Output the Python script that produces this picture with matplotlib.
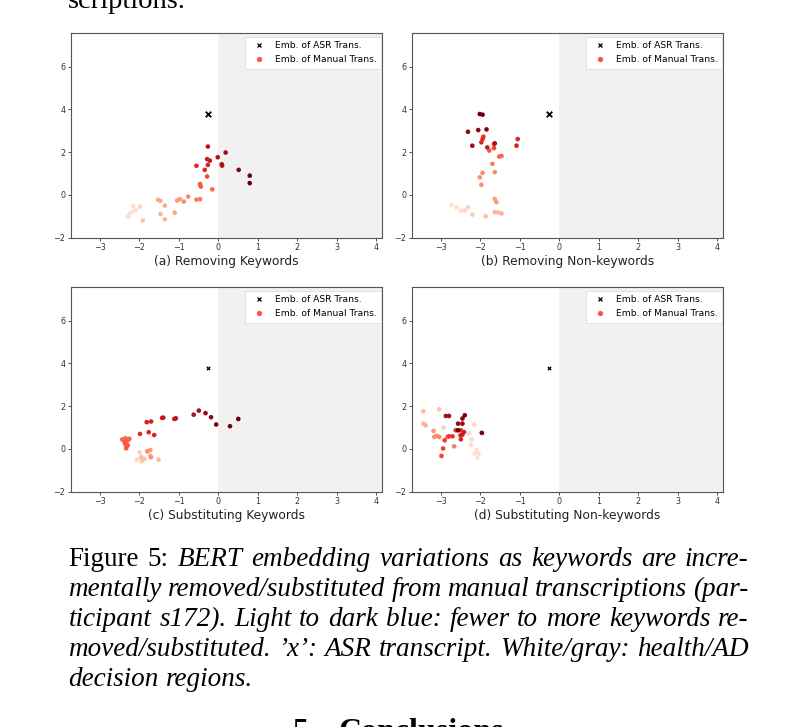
import matplotlib
matplotlib.use("Agg")
import matplotlib.pyplot as plt
from matplotlib.lines import Line2D

W, H = 807, 727

# ASR transcript embedding (same in all four panels)
asr_x = -0.26
asr_y = 3.79

# (a) Removing Keywords
a_x = [-2.28, -2.22, -2.15, -2.09, -1.98, -2.18, -1.91,
       -1.52, -1.46, -1.35, -1.46, -1.35, -1.10, -1.04, -0.97, -0.87, -0.76,
       -0.55, -0.46, -0.15, -0.46, -0.44, -0.28,
       -0.55, -0.34, -0.26, -0.28, -0.21,
       -0.26, -0.01, 0.09, 0.10, 0.19,
       0.52, 0.80, 0.80]
a_y = [-1.01, -0.83, -0.51, -0.70, -0.55, -0.78, -1.20,
       -0.23, -0.28, -0.50, -0.89, -1.14, -0.83, -0.26, -0.20, -0.31, -0.08,
       -0.22, -0.20, 0.26, 0.51, 0.39, 0.86,
       1.36, 1.17, 1.40, 1.67, 1.60,
       2.26, 1.76, 1.43, 1.37, 1.98,
       1.17, 0.90, 0.55]
a_lvl = [0.14, 0.14, 0.12, 0.14, 0.16, 0.12, 0.22,
         0.30, 0.30, 0.30, 0.28, 0.28, 0.32, 0.35, 0.35, 0.38, 0.40,
         0.45, 0.45, 0.50, 0.55, 0.55, 0.60,
         0.68, 0.70, 0.72, 0.74, 0.76,
         0.82, 0.84, 0.86, 0.86, 0.88,
         0.95, 1.00, 1.00]

# (b) Removing Non-keywords
b_x = [-2.73, -2.60, -2.49, -2.39, -2.31, -2.20, -1.86, -1.63, -1.55, -1.46,
       -1.63, -1.59, -1.97, -2.01, -1.94, -1.63, -1.69, -1.52, -1.46, -1.77,
       -1.65, -1.65, -1.92, -1.94, -1.97, -1.08, -1.05, -1.82,
       -1.63, -2.20, -2.31, -2.05, -1.84, -2.01, -1.94]
b_y = [-0.47, -0.58, -0.73, -0.73, -0.58, -0.92, -1.00, -0.81, -0.82, -0.87,
       -0.19, -0.34, 0.47, 0.82, 1.03, 1.06, 1.45, 1.79, 1.82, 2.07,
       2.19, 2.38, 2.72, 2.61, 2.46, 2.30, 2.61, 2.22,
       2.41, 2.30, 2.95, 3.03, 3.06, 3.78, 3.75]
b_lvl = [0.12, 0.14, 0.14, 0.16, 0.17, 0.20, 0.24, 0.27, 0.27, 0.28,
         0.33, 0.34, 0.38, 0.38, 0.40, 0.40, 0.45, 0.50, 0.50, 0.55,
         0.62, 0.64, 0.66, 0.68, 0.70, 0.72, 0.70, 0.74,
         0.86, 0.90, 0.92, 0.94, 0.96, 1.00, 1.00]

# (c) Substituting Keywords
c_x = [-2.06, -1.99, -1.93, -1.87, -1.95, -1.51, -1.72,
       -1.78, -1.72, -1.80, -1.70,
       -2.43, -2.35, -2.29, -2.25, -2.34, -2.33, -2.29, -2.37,
       -1.98, -1.76, -1.62, -1.81, -1.70, -1.42, -1.39, -1.11, -1.07,
       -0.62, -0.49, -0.32, -0.18, -0.05, 0.30, 0.51]
c_y = [-0.50, -0.16, -0.58, -0.47, -0.39, -0.50, -0.31,
       -0.11, -0.05, -0.11, -0.39,
       0.44, 0.50, 0.39, 0.47, 0.19, 0.03, 0.16, 0.31,
       0.70, 0.78, 0.65, 1.25, 1.28, 1.45, 1.46, 1.40, 1.43,
       1.60, 1.79, 1.67, 1.48, 1.14, 1.06, 1.40]
c_lvl = [0.16, 0.19, 0.21, 0.23, 0.25, 0.26, 0.28,
         0.35, 0.36, 0.38, 0.38,
         0.50, 0.50, 0.52, 0.52, 0.54, 0.54, 0.55, 0.55,
         0.68, 0.70, 0.70, 0.72, 0.72, 0.74, 0.76, 0.78, 0.80,
         0.86, 0.88, 0.90, 0.92, 0.95, 0.98, 1.00]

# (d) Substituting Non-keywords
d_x = [-2.15, -2.07, -2.04, -2.09, -2.24, -2.22, -2.28, -2.15, -1.92, -2.93,
       -3.04, -3.44, -3.44, -3.38,
       -3.18, -3.16, -3.10, -3.04, -2.66, -2.83,
       -2.98, -2.94, -2.90, -2.79, -2.70, -2.62, -2.49, -2.50, -2.49, -2.41, -2.45,
       -2.87, -2.79, -2.56, -2.45, -2.45, -2.39, -1.96, -2.56]
d_y = [-0.22, -0.42, -0.22, -0.06, 0.20, 0.45, 0.72, 1.14, 0.72, 1.00,
       1.85, 1.76, 1.18, 1.10,
       0.84, 0.56, 0.61, 0.56, 0.12, 0.56,
       -0.33, 0.02, 0.40, 0.59, 0.59, 0.87, 0.87, 0.64, 0.45, 0.79, 0.67,
       1.54, 1.54, 1.18, 1.18, 1.42, 1.57, 0.75, 0.87]
d_lvl = [0.12, 0.12, 0.14, 0.14, 0.15, 0.15, 0.16, 0.17, 0.17, 0.19,
         0.23, 0.25, 0.26, 0.27,
         0.36, 0.38, 0.40, 0.42, 0.44, 0.46,
         0.60, 0.62, 0.62, 0.64, 0.64, 0.66, 0.66, 0.68, 0.70, 0.72, 0.74,
         0.86, 0.88, 0.90, 0.92, 0.94, 0.96, 0.98, 1.00]

titles = ["(a) Removing Keywords", "(b) Removing Non-keywords",
          "(c) Substituting Keywords", "(d) Substituting Non-keywords"]
xticks = [-3, -2, -1, 0, 1, 2, 3, 4]
yticks = [-2, 0, 2, 4, 6]

caption_lines = [
    "Figure 5: BERT embedding variations as keywords are incre-",
    "mentally removed/substituted from manual transcriptions (par-",
    "ticipant s172). Light to dark blue: fewer to more keywords re-",
    "moved/substituted. \u2019x\u2019: ASR transcript. White/gray: health/AD",
    "decision regions.",
]

fig = plt.figure(figsize=(W / 100, H / 100), dpi=100)
cmap = plt.get_cmap("Reds")


def px_axes(left, top, width, height):
    return fig.add_axes([left / W, 1 - (top + height) / H, width / W, height / H])


boxes = [(70.5, 32.7), (411.5, 32.7), (70.5, 286.7), (411.5, 286.7)]
data = [(a_x, a_y, a_lvl), (b_x, b_y, b_lvl), (c_x, c_y, c_lvl), (d_x, d_y, d_lvl)]

for i, ((left, top), (xs, ys, lv), title) in enumerate(zip(boxes, data, titles)):
    ax = px_axes(left, top, 311.5, 205)
    ax.set_xlim(-3.74, 4.15)
    ax.set_ylim(-2, 7.58)
    ax.axvspan(0, 4.15, color="#f1f1f1", lw=0, zorder=0)
    ax.scatter(xs, ys, c=lv, cmap=cmap, vmin=0, vmax=1, s=11, linewidths=0, zorder=2)
    big = i < 2
    ax.scatter([asr_x], [asr_y], marker="x", color="black",
               s=16 if big else 6, linewidths=1.3 if big else 0.9, zorder=3)
    ax.set_xticks(xticks)
    ax.set_yticks(yticks)
    ax.tick_params(labelsize=5.8, length=2.2, width=0.6, pad=1.5,
                   colors="#333333")
    for sp in ax.spines.values():
        sp.set_color("#555555")
        sp.set_linewidth(0.8)
    handles = [
        Line2D([], [], marker="x", ls="none", color="black", markersize=3.2,
               markeredgewidth=0.9),
        Line2D([], [], marker="o", ls="none", color=cmap(0.55), markersize=3.8,
               markeredgewidth=0),
    ]
    leg = ax.legend(handles, ["Emb. of ASR Trans.", "Emb. of Manual Trans."],
                    loc="upper right", bbox_to_anchor=(0.997, 0.978),
                    borderaxespad=0, fontsize=6.6, labelspacing=0.55,
                    handletextpad=0.8, handlelength=2.0, borderpad=0.45,
                    fancybox=False, framealpha=1)
    leg.get_frame().set_edgecolor("#dddddd")
    leg.get_frame().set_linewidth(0.6)
    ax.text(0.5, -0.117, title, transform=ax.transAxes, ha="center", va="center",
            fontsize=8.8, color="#222222")

# body text and caption, justified word by word
renderer = fig.canvas.get_renderer()
serif = "Liberation Serif"


def put(x, y, s, **kw):
    return fig.text(x / W, 1 - y / H, s, family=serif, va="baseline", ha="left", **kw)


put(68, 8, "scriptions.", fontsize=20.5)

left_px, right_px = 68.5, 748.5
base_y = [566, 596, 626, 655.5, 686]
for n, (line, by) in enumerate(zip(caption_lines, base_y)):
    words = line.split(" ")
    texts = []
    for k, w in enumerate(words):
        style = "normal" if (n == 0 and k < 2) else "italic"
        texts.append(put(0, by, w, fontsize=19.5, style=style))
    widths = [t.get_window_extent(renderer).width for t in texts]
    if n < len(caption_lines) - 1:
        gap = (right_px - left_px - sum(widths)) / (len(words) - 1)
    else:
        gap = 7.5
    x = left_px
    for t, wdt in zip(texts, widths):
        t.set_x(x / W)
        x += wdt + gap

put(293, 740, "5", fontsize=23, weight="bold")
put(338, 740, "Conclusions", fontsize=23, weight="bold")

fig.savefig("out.png", dpi=100)
